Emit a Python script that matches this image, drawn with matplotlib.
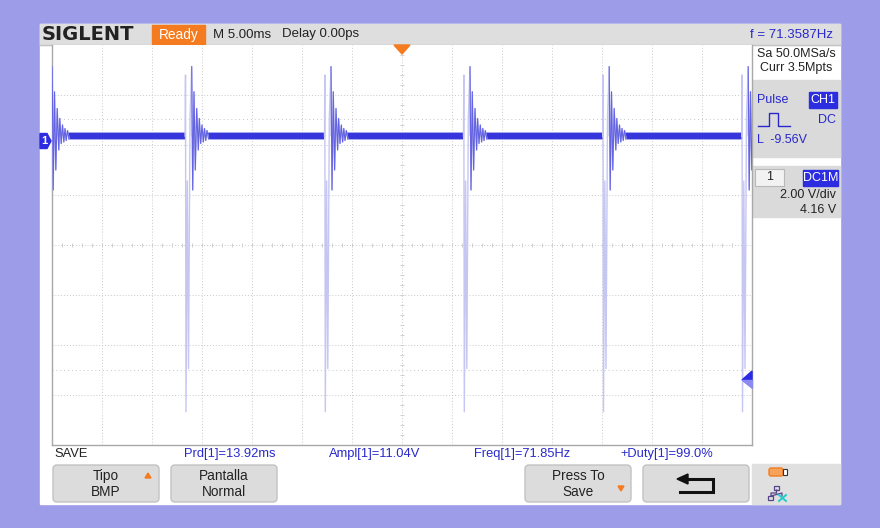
import numpy as np
import matplotlib
matplotlib.use('Agg')
import matplotlib.pyplot as plt
from matplotlib.patches import Rectangle, Polygon, FancyBboxPatch

# scope settings
time_per_div = 5.0      # ms
volt_per_div = 2.0      # V
offset = 4.16           # V
n_hdiv, n_vdiv = 14, 8

# falling edge of each pulse (ms, relative to trigger)
pulse_times = [-35.6, -21.65, -7.72, 6.18, 20.1, 34.0]

# shape of one pulse: spike then decaying ringing (ms after edge, V)
ring_dt = [-0.03, 0.0, 0.05, 0.18, 0.30, 0.45, 0.62, 0.72, 0.85, 0.98,
           1.12, 1.28, 1.38, 1.52, 1.65, 1.78, 1.90, 2.02, 2.15, 2.30]
ring_v = [0.2, 2.64, -10.83, -1.6, -9.1, 0.9, 2.97, -1.96, 1.97, -1.16,
          1.3, -0.36, 0.9, -0.1, 0.64, -0.04, 0.5, 0.02, 0.42, 0.1]
baseline_v = 0.21
extra_levels = [0.88, -9.14]   # faint dotted measure levels
trig_level = -9.56

measurements = ['Prd[1]=13.92ms', 'Ampl[1]=11.04V', 'Freq[1]=71.85Hz', '+Duty[1]=99.0%']
meas_x = [184, 329, 474, 620]

LAV = '#9c9ce9'
BLUE_TXT = '#2828cc'
WAVE = '#3636dc'
PALE = '#c6c6f3'
GRID = '#c9c9c9'
PANEL = '#dadada'
ORANGE = '#f47b20'

plt.rcParams['font.family'] = ['Liberation Sans', 'DejaVu Sans']

W, H = 880, 528
fig = plt.figure(figsize=(W / 100, H / 100), dpi=100)
fig.patch.set_facecolor(LAV)

# background chrome in pixel coordinates
bg = fig.add_axes([0, 0, 1, 1])
bg.set_xlim(0, W)
bg.set_ylim(H, 0)
bg.axis('off')
bg.add_patch(Rectangle((40, 24), 800, 480, color='white', zorder=0))
bg.add_patch(Rectangle((40, 24), 800, 21, color='#dedede', zorder=1))
bg.plot([40, 840], [45, 45], color='#c4c4c4', lw=1, zorder=2)

bg.text(42, 34.5, 'SIGLENT', family='DejaVu Sans', weight='bold', fontsize=14,
        color='#222222', va='center', ha='left')
bg.add_patch(Rectangle((152, 25), 53, 19, color=ORANGE, zorder=2))
bg.text(178.5, 34.5, 'Ready', color='white', fontsize=9.8, ha='center', va='center', zorder=3)
bg.text(213, 34.5, 'M 5.00ms', color='#222222', fontsize=9.5, va='center')
bg.text(282, 34.5, 'Delay 0.00ps', color='#222222', fontsize=9.5, va='center')
bg.text(833, 34.5, 'f = 71.3587Hz', color=BLUE_TXT, fontsize=9.5, ha='right', va='center')

# right side panel
bg.text(796, 54, 'Sa 50.0MSa/s', color='#222222', fontsize=9, ha='center', va='center')
bg.text(796, 68, 'Curr 3.5Mpts', color='#222222', fontsize=9, ha='center', va='center')
bg.add_patch(Rectangle((752, 80), 88, 77, color=PANEL, zorder=1))
bg.add_patch(Rectangle((752, 166), 88, 51, color=PANEL, zorder=1))
bg.text(757, 100, 'Pulse', color=BLUE_TXT, fontsize=9, va='center', zorder=3)
bg.add_patch(Rectangle((809, 92), 28, 16, color='#2c2ce0', zorder=2))
bg.text(823, 100, 'CH1', color='white', fontsize=9, ha='center', va='center', zorder=3)
bg.text(836, 120, 'DC', color=BLUE_TXT, fontsize=9, ha='right', va='center', zorder=3)
bg.plot([758, 769, 769, 778, 778, 790], [126, 126, 113, 113, 126, 126],
        color=BLUE_TXT, lw=1, zorder=3)
bg.text(757, 140, 'L  -9.56V', color=BLUE_TXT, fontsize=9, va='center', zorder=3)
bg.add_patch(Rectangle((755, 169), 29, 17, facecolor='#f2f2f2', edgecolor='#b8b8b8',
                       lw=0.8, zorder=2))
bg.text(769.5, 177.5, '1', color='#222222', fontsize=9, ha='center', va='center', zorder=3)
bg.add_patch(Rectangle((803, 170), 35, 16, color='#2c2ce0', zorder=2))
bg.text(820.5, 178, 'DC1M', color='white', fontsize=9, ha='center', va='center', zorder=3)
bg.text(836, 195, '2.00 V/div', color='#222222', fontsize=9, ha='right', va='center', zorder=3)
bg.text(836, 210, '4.16 V', color='#222222', fontsize=9, ha='right', va='center', zorder=3)

# bottom: measurement line and soft keys
bg.text(54, 454, 'SAVE', color='#222222', fontsize=9.3, va='center')
for s, x in zip(measurements, meas_x):
    bg.text(x, 454, s, color=BLUE_TXT, fontsize=9.3, va='center')

bg.add_patch(Rectangle((752, 464), 88, 40, color='#e0e0e0', zorder=1))
buttons = [(52, 'Tipo\nBMP'), (170, 'Pantalla\nNormal'), (524, 'Press To\nSave'), (642, '')]
for x0, label in buttons:
    bg.add_patch(FancyBboxPatch((x0 + 1, 465), 106, 37, boxstyle='round,pad=0,rounding_size=4',
                                facecolor='#dcdcdc', edgecolor='#c2c2c2', lw=1, zorder=2))
    if label:
        bg.text(x0 + 54, 484, label, color='#222222', fontsize=9.8, ha='center',
                va='center', linespacing=1.15, zorder=3)
bg.add_patch(Polygon([(145, 478), (151, 478), (148, 473)], color=ORANGE, zorder=3))
bg.add_patch(Polygon([(618, 486), (624, 486), (621, 491)], color=ORANGE, zorder=3))
# return arrow
bg.plot([686, 713, 713, 680], [479, 479, 492, 492], color='#111111', lw=2.2,
        solid_joinstyle='miter', zorder=3)
bg.add_patch(Polygon([(677, 479), (688, 474), (688, 484)], color='#111111', zorder=3))
# usb and network icons
bg.add_patch(FancyBboxPatch((769, 468), 14, 8, boxstyle='round,pad=0,rounding_size=2',
                            facecolor='#f7a25a', edgecolor=ORANGE, lw=1, zorder=3))
bg.add_patch(Rectangle((783, 469), 4, 6, facecolor='white', edgecolor='#333333', lw=0.8, zorder=3))
bg.add_patch(Rectangle((774, 486), 5, 4, facecolor='none', edgecolor='#554488', lw=0.9, zorder=3))
bg.plot([776.5, 776.5, 771, 771, 782, 782], [490, 493, 493, 496, 493, 496],
        color='#554488', lw=0.9, zorder=3)
bg.add_patch(Rectangle((768, 496), 5, 4, facecolor='none', edgecolor='#554488', lw=0.9, zorder=3))
bg.plot([779, 786], [495, 501], color='#22cccc', lw=1.4, zorder=3)
bg.plot([786, 779], [495, 501], color='#22cccc', lw=1.4, zorder=3)

# waveform area
ax = fig.add_axes([52 / W, (H - 445) / H, 700 / W, 400 / H])
ax.set_facecolor('white')
half_t = time_per_div * n_hdiv / 2
center_v = -offset
ax.set_xlim(-half_t, half_t)
ax.set_ylim(center_v - volt_per_div * n_vdiv / 2, center_v + volt_per_div * n_vdiv / 2)
ax.set_xticks([])
ax.set_yticks([])
for side in ['left', 'right', 'bottom']:
    ax.spines[side].set_color('#a8a8a8')
    ax.spines[side].set_linewidth(1)
ax.spines['top'].set_visible(False)

for gx in np.arange(-half_t + time_per_div, half_t, time_per_div):
    ax.axvline(gx, color=GRID, lw=0.7, ls=(0, (1, 2)), zorder=1)
for k in range(1, n_vdiv):
    gy = center_v - volt_per_div * n_vdiv / 2 + k * volt_per_div
    ax.axhline(gy, color=GRID, lw=0.7, ls=(0, (1, 2)), zorder=1)
for lv in extra_levels:
    ax.axhline(lv, color='#c4c4c4', lw=0.7, ls=(0, (1, 3)), zorder=1)

# sub-division ticks on the centre lines
sub_t = np.arange(-half_t, half_t + 0.01, time_per_div / 5)
sub_v = np.arange(center_v - 8, center_v + 8.01, volt_per_div / 5)
ax.plot(sub_t, np.full_like(sub_t, center_v), ls='none', marker='|', ms=2.5,
        color='#d0d0d0', mew=0.7, zorder=1)
ax.plot(np.zeros_like(sub_v), sub_v, ls='none', marker='_', ms=2.5,
        color='#d0d0d0', mew=0.7, zorder=1)

# baseline bands between pulses
for t0, t1 in zip(pulse_times[:-1], pulse_times[1:]):
    seg = [t0 + ring_dt[-1] - 0.1, t1 - 0.05]
    ax.fill_between(seg, baseline_v - 0.17, baseline_v + 0.17, color='#a9a9ef', lw=0, zorder=2)
    ax.fill_between(seg, baseline_v - 0.12, baseline_v + 0.12, color=WAVE, lw=0, zorder=3)

# pulses
dt = np.array(ring_dt)
rv = np.array(ring_v)
for t0 in pulse_times:
    t = t0 + dt
    ax.fill_between(t[5:], rv[5:], baseline_v, color='#d8d8f7', lw=0, zorder=2)
    ax.plot(t, rv, color=PALE, lw=1.0, zorder=3)
    ax.plot(t[6:], rv[6:], color='#6464e2', lw=0.8, zorder=4)

# overlay markers
top = fig.add_axes([0, 0, 1, 1])
top.set_xlim(0, W)
top.set_ylim(H, 0)
top.axis('off')
top.patch.set_alpha(0)
# trigger position
top.add_patch(Polygon([(394, 45), (410, 45), (402, 54)], color=ORANGE))
# channel ground marker
gnd_y = 45 + (center_v + volt_per_div * n_vdiv / 2) / volt_per_div * 50
top.add_patch(Polygon([(40, gnd_y - 7.5), (47, gnd_y - 7.5), (51, gnd_y), (47, gnd_y + 7.5),
                       (40, gnd_y + 7.5)], color='#2c2ce0'))
top.text(44, gnd_y, '1', color='white', fontsize=8, ha='center', va='center', weight='bold')
# trigger level marker
tl_y = 45 + (center_v + volt_per_div * n_vdiv / 2 - trig_level) / volt_per_div * 50
top.add_patch(Polygon([(752, tl_y - 9), (742, tl_y), (752, tl_y)], color='#2a2ae6'))
top.add_patch(Polygon([(742, tl_y), (752, tl_y), (752, tl_y + 8)], color='#8a8af0'))

fig.savefig('out.png', dpi=100, facecolor=LAV)
